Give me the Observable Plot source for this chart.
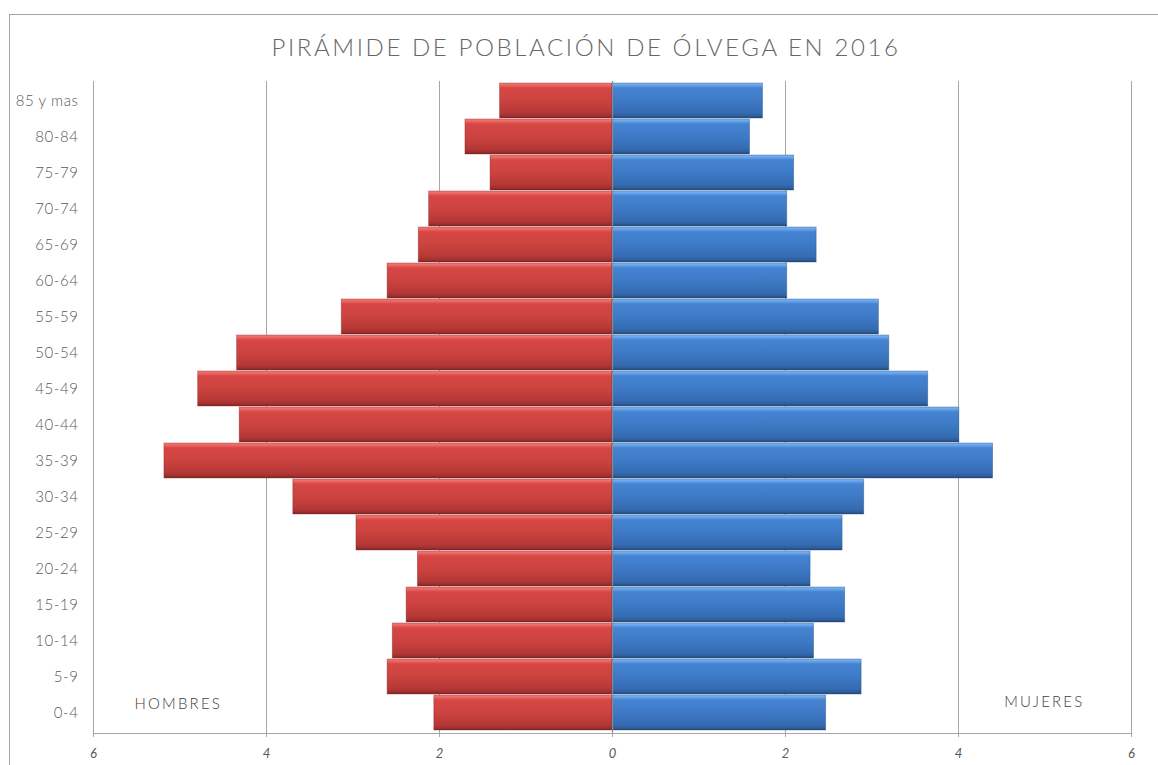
<!DOCTYPE html>
<html>
<head>
<meta charset="utf-8">
<script src="https://cdn.jsdelivr.net/npm/d3@7"></script>
<script src="https://cdn.jsdelivr.net/npm/@observablehq/plot@0.6"></script>
<style>
  html, body { margin: 0; padding: 0; background: #fff; }
  body { width: 1158px; height: 765px; overflow: hidden; position: relative; font-family: "Lato", "Open Sans", sans-serif; }
  #frame { position: absolute; left: 9px; top: 14px; width: 1200px; height: 800px; border: 1px solid #a6a6a6; box-sizing: border-box; }
  #title { position: absolute; left: 0; top: 32px; width: 1172px; text-align: center; font-size: 24px; color: #666666; letter-spacing: 2.6px; font-family: "Lato", sans-serif; font-weight: 300; }
  #chart { position: absolute; left: 0; top: 60px; }
</style>
</head>
<body>
<div id="frame"></div>
<div id="title">PIRÁMIDE DE POBLACIÓN DE ÓLVEGA EN 2016</div>
<div id="chart"></div>
<script>
const ages = ["85 y mas","80-84","75-79","70-74","65-69","60-64","55-59","50-54","45-49","40-44","35-39","30-34","25-29","20-24","15-19","10-14","5-9","0-4"];
const hombres = [1.30,1.70,1.41,2.12,2.24,2.60,3.13,4.34,4.79,4.31,5.18,3.69,2.96,2.25,2.38,2.54,2.60,2.06];
const mujeres = [1.74,1.59,2.10,2.02,2.36,2.02,3.08,3.20,3.65,4.01,4.40,2.91,2.66,2.29,2.69,2.33,2.88,2.47];
const xTicks = [-6,-4,-2,0,2,4,6];
const gridTicks = [-6,-4,-2,2,4,6];
const sexLabels = ["HOMBRES","MUJERES"];

const data = ages.map((a, i) => ({age: a, h: hombres[i], m: mujeres[i]}));

const grey = "#595959";
const chart = Plot.plot({
  width: 1158,
  height: 700,
  marginLeft: 93,
  marginRight: 27,
  marginTop: 21,
  marginBottom: 27,
  style: {fontFamily: "Lato, 'Open Sans', sans-serif", color: grey, background: "transparent"},
  x: {domain: [-6, 6]},
  y: {domain: ages, padding: 0.02},
  marks: [
    Plot.ruleX(gridTicks, {stroke: "#a6a6a6", strokeWidth: 1}),
    Plot.barX(data, {y: "age", x1: 0, x2: d => -d.h, fill: "url(#gradRed)", stroke: "#7d2424", strokeOpacity: 0.45, strokeWidth: 0.8, inset: 0}),
    Plot.barX(data, {y: "age", x1: 0, x2: "m", fill: "url(#gradBlue)", stroke: "#1f4478", strokeOpacity: 0.45, strokeWidth: 0.8, inset: 0}),
    Plot.ruleX([0], {stroke: "#8c8c8c", strokeWidth: 1.2}),
    Plot.frame({anchor: "bottom", stroke: "#a6a6a6", strokeWidth: 1.2}),
    Plot.axisX({ticks: xTicks, tickFormat: d => Math.abs(d), tickSize: 4, tickPadding: 11, stroke: "#a6a6a6", fontSize: 13, fill: grey, fontStyle: "italic", label: null}),
    Plot.axisY({tickSize: 0, tickPadding: 15, fontSize: 15, fill: grey, fontWeight: 300, label: null}),
    Plot.text([sexLabels[0]], {frameAnchor: "bottom-left", dx: 41, dy: -25, textAnchor: "start", fontSize: 15, fill: "#404040", text: d => d, fontWeight: 300}),
    Plot.text([sexLabels[1]], {frameAnchor: "bottom-right", dx: -47, dy: -27, textAnchor: "end", fontSize: 15, fill: "#404040", text: d => d, fontWeight: 300})
  ]
});

const ns = "http://www.w3.org/2000/svg";
const defs = document.createElementNS(ns, "defs");
function grad(id, stops) {
  const g = document.createElementNS(ns, "linearGradient");
  g.setAttribute("id", id);
  g.setAttribute("x1", "0"); g.setAttribute("y1", "0");
  g.setAttribute("x2", "0"); g.setAttribute("y2", "1");
  stops.forEach(([o, c]) => {
    const s = document.createElementNS(ns, "stop");
    s.setAttribute("offset", o);
    s.setAttribute("stop-color", c);
    g.appendChild(s);
  });
  defs.appendChild(g);
}
grad("gradRed", [[0, "#f47a76"], [0.07, "#ec6562"], [0.14, "#d64744"], [0.5, "#cc4340"], [0.85, "#b53836"], [0.94, "#9e3030"], [1, "#7f2626"]]);
grad("gradBlue", [[0, "#7db7f3"], [0.07, "#64a3ea"], [0.14, "#4583d1"], [0.5, "#3e7ac6"], [0.85, "#356bb2"], [0.94, "#2d5d9b"], [1, "#244a7c"]]);
chart.insertBefore(defs, chart.firstChild);
chart.querySelectorAll("text").forEach(t => {
  const s = t.textContent;
  if (sexLabels.includes(s)) t.setAttribute("letter-spacing", "2.2px");
  else if (ages.includes(s)) t.setAttribute("letter-spacing", "0.6px");
});
document.getElementById("chart").appendChild(chart);
</script>
</body>
</html>
